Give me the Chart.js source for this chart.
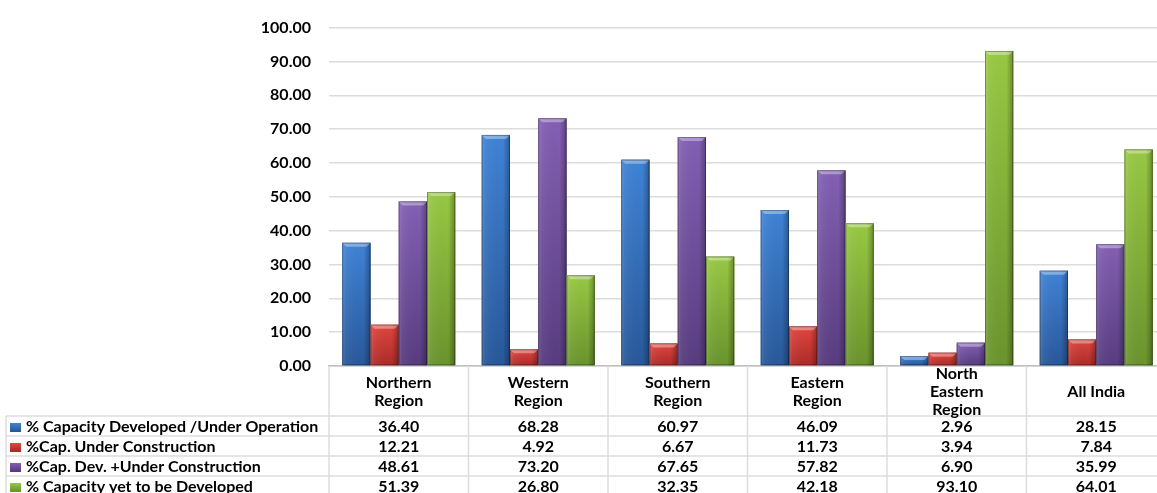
<!DOCTYPE html>
<html>
<head>
<meta charset="utf-8">
<script src="https://cdn.jsdelivr.net/npm/chart.js@4"></script>
<style>
    body { margin: 0; background: #fff; overflow: hidden; }
    #wrap { width: 1170px; height: 493px; }
</style>
</head>
<body>
<div id="wrap"><canvas id="capChart" width="1170" height="493"></canvas></div>
<script>
// Data
const regions = [['Northern', 'Region'], ['Western', 'Region'], ['Southern', 'Region'], ['Eastern', 'Region'], ['North', 'Eastern', 'Region'], ['All India']];
const seriesNames = ['% Capacity Developed /Under Operation', '%Cap. Under Construction', '%Cap. Dev. +Under Construction', '% Capacity yet to be Developed'];
const developed = [36.40, 68.28, 60.97, 46.09, 2.96, 28.15];
const underConstruction = [12.21, 4.92, 6.67, 11.73, 3.94, 7.84];
const devPlusUnder = [48.61, 73.20, 67.65, 57.82, 6.90, 35.99];
const yetToDevelop = [51.39, 26.80, 32.35, 42.18, 93.10, 64.01];
const yTicks = [0, 10, 20, 30, 40, 50, 60, 70, 80, 90, 100];

const seriesValues = [developed, underConstruction, devPlusUnder, yetToDevelop];
const shades = [
    ['#3f83d6', '#28589a'],
    ['#e0463f', '#ad2b27'],
    ['#8360b4', '#583c80'],
    ['#98c943', '#6a942d']
];
const FONT = 'Lato, "Liberation Sans", sans-serif';
const gridColor = '#dcdcdc';

// Bevelled bars painted over the library's own bar elements
const bevelBars = {
    id: 'bevelBars',
    afterDatasetsDraw(chart) {
        const ctx = chart.ctx;
        chart.data.datasets.forEach((ds, i) => {
            const [light, dark] = shades[i];
            chart.getDatasetMeta(i).data.forEach(bar => {
                const left = bar.x - bar.width / 2;
                const right = bar.x + bar.width / 2;
                const top = bar.y;
                const base = bar.base;
                const w = right - left;
                ctx.save();
                let g = ctx.createLinearGradient(0, top, 0, base);
                g.addColorStop(0, light);
                g.addColorStop(1, dark);
                ctx.fillStyle = g;
                ctx.fillRect(left, top, w, base - top);
                let h = ctx.createLinearGradient(left, 0, right, 0);
                h.addColorStop(0, 'rgba(255,255,255,0.18)');
                h.addColorStop(0.12, 'rgba(255,255,255,0.05)');
                h.addColorStop(0.75, 'rgba(0,0,0,0)');
                h.addColorStop(1, 'rgba(0,0,0,0.3)');
                ctx.fillStyle = h;
                ctx.fillRect(left, top, w, base - top);
                // top cap
                const cap = Math.min(4, base - top);
                ctx.beginPath();
                ctx.moveTo(left, top);
                ctx.lineTo(right, top);
                ctx.lineTo(right - 4, top + cap);
                ctx.lineTo(left + 4, top + cap);
                ctx.closePath();
                ctx.fillStyle = 'rgba(255,255,255,0.35)';
                ctx.fill();
                ctx.strokeStyle = 'rgba(0,0,0,0.3)';
                ctx.lineWidth = 1;
                ctx.strokeRect(left + 0.5, top + 0.5, w - 1, base - top - 1);
                ctx.restore();
            });
        });
    }
};

// Data table under the plot
const dataTable = {
    id: 'dataTable',
    afterDraw(chart) {
        const ctx = chart.ctx;
        const xs = chart.scales.x;
        const area = chart.chartArea;
        const headTop = area.bottom;
        const headH = 50;
        const rowH = 20;
        const bodyTop = headTop + headH;
        const legendLeft = 6;
        const n = regions.length;
        const catW = (xs.right - xs.left) / n;
        const bottom = bodyTop + rowH * seriesNames.length;
        ctx.save();
        ctx.strokeStyle = gridColor;
        ctx.lineWidth = 1.5;
        // vertical lines
        for (let i = 0; i <= n; i++) {
            const x = xs.left + i * catW;
            ctx.beginPath();
            ctx.moveTo(x, headTop);
            ctx.lineTo(x, bottom);
            ctx.stroke();
        }
        ctx.beginPath();
        ctx.moveTo(legendLeft, bodyTop);
        ctx.lineTo(legendLeft, bottom);
        ctx.stroke();
        // horizontal lines
        for (let r = 0; r <= seriesNames.length; r++) {
            const y = bodyTop + r * rowH;
            ctx.beginPath();
            ctx.moveTo(legendLeft, y);
            ctx.lineTo(xs.right, y);
            ctx.stroke();
        }
        ctx.fillStyle = '#000';
        ctx.textAlign = 'center';
        ctx.textBaseline = 'middle';
        ctx.font = 'bold 16px ' + FONT;
        // header
        regions.forEach((lines, i) => {
            const cx = xs.getPixelForValue(i);
            const lh = 18;
            const y0 = headTop + headH / 2 + 1 - (lines.length - 1) * lh / 2;
            lines.forEach((t, k) => ctx.fillText(t, cx, y0 + k * lh));
        });
        // body rows
        seriesNames.forEach((name, r) => {
            const cy = bodyTop + r * rowH + rowH / 2 + 1;
            const g = ctx.createLinearGradient(0, cy - 4, 0, cy + 4);
            g.addColorStop(0, shades[r][0]);
            g.addColorStop(1, shades[r][1]);
            ctx.fillStyle = g;
            ctx.fillRect(10, cy - 4, 11, 9);
            ctx.fillStyle = '#000';
            ctx.textAlign = 'left';
            ctx.fillText(name, 26, cy);
            ctx.textAlign = 'center';
            seriesValues[r].forEach((v, i) => {
                ctx.fillText(v.toFixed(2), xs.getPixelForValue(i), cy);
            });
        });
        ctx.restore();
    }
};

document.addEventListener('DOMContentLoaded', function() {
    const ctx = document.getElementById('capChart').getContext('2d');
    new Chart(ctx, {
        type: 'bar',
        data: {
            labels: regions.map(r => r.join(' ')),
            datasets: seriesNames.map((name, i) => ({
                label: name,
                data: seriesValues[i],
                backgroundColor: shades[i][1],
                barPercentage: 1,
                categoryPercentage: 0.81
            }))
        },
        options: {
            responsive: false,
            animation: false,
            layout: {
                padding: { top: 17, right: 4, bottom: 127, left: 0 }
            },
            plugins: {
                legend: { display: false },
                tooltip: { enabled: false }
            },
            scales: {
                x: {
                    ticks: { display: false },
                    grid: { display: false, drawTicks: false },
                    border: { color: '#bfbfbf', width: 1.5 }
                },
                y: {
                    min: 0,
                    max: 100,
                    afterBuildTicks: s => { s.ticks = yTicks.map(v => ({ value: v })); },
                    afterFit: s => { s.width = 329; },
                    ticks: {
                        callback: v => Number(v).toFixed(2),
                        color: '#000',
                        padding: 18,
                        font: { family: FONT, size: 16, weight: 'bold' }
                    },
                    grid: { color: gridColor, lineWidth: 1.5, drawTicks: false },
                    border: { display: false }
                }
            }
        },
        plugins: [bevelBars, dataTable]
    });
});
</script>
</body>
</html>
